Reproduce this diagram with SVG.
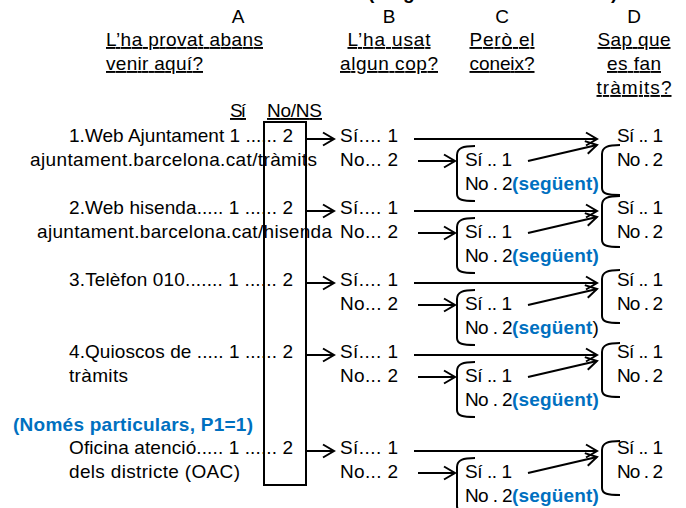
<svg xmlns="http://www.w3.org/2000/svg" width="686" height="508" viewBox="0 0 686 508">
<style>
text{font-family:"Liberation Sans",Arial,sans-serif;font-size:19px;fill:#000}
.u{text-decoration:underline}
.m{text-anchor:middle}
.b{font-weight:bold}
.blue{fill:#0070C0;font-weight:bold}
.ln{fill:none;stroke:#000;stroke-width:2}
.arr{fill:none;stroke:#000;stroke-width:2;marker-end:url(#ah)}
</style>
<defs>
<marker id="ah" markerUnits="userSpaceOnUse" markerWidth="16" markerHeight="16" refX="11" refY="7" orient="auto" overflow="visible">
<path d="M0,0.5 L11,7 L0,13.5" fill="none" stroke="#000" stroke-width="2"/>
</marker>
</defs>
<rect width="686" height="508" fill="#fff"/>
<g id="title">
<text class="b" y="-1"><tspan x="368">(</tspan><tspan x="403">g</tspan><tspan x="611">)</tspan></text>
</g>
<g id="header">
<text class="m" x="238" y="23">A</text>
<text class="m" x="389" y="23">B</text>
<text class="m" x="502" y="23">C</text>
<text class="m" x="634" y="23">D</text>
<text class="u" x="106" y="46" textLength="157" lengthAdjust="spacing">L’ha provat abans</text>
<text class="u" x="106" y="70" textLength="97" lengthAdjust="spacing">venir aquí?</text>
<text class="u m" x="389" y="46" textLength="83" lengthAdjust="spacing">L’ha usat</text>
<text class="u m" x="389" y="70" textLength="98" lengthAdjust="spacing">algun cop?</text>
<text class="u m" x="502" y="46" textLength="65" lengthAdjust="spacing">Però el</text>
<text class="u m" x="502" y="70" textLength="65" lengthAdjust="spacing">coneix?</text>
<text class="u m" x="634" y="46" textLength="73" lengthAdjust="spacing">Sap que</text>
<text class="u m" x="634" y="70" textLength="54" lengthAdjust="spacing">es fan</text>
<text class="u m" x="634" y="94" textLength="75" lengthAdjust="spacing">tràmits?</text>
<text class="u" x="230" y="117" textLength="16" lengthAdjust="spacing">Sí</text>
<text class="u" x="267" y="117" textLength="55" lengthAdjust="spacing">No/NS</text>
</g>
<g id="box">
<rect class="ln" x="264" y="122" width="42" height="363"/>
</g>
<g id="row1">
<text x="69" y="142" textLength="224" lengthAdjust="spacing">1.Web Ajuntament 1 ...... 2</text>
<text x="30" y="166" textLength="287" lengthAdjust="spacing">ajuntament.barcelona.cat/tràmits</text>
<text x="340" y="142" textLength="58" lengthAdjust="spacing">Sí.... 1</text>
<text x="340" y="166" textLength="58" lengthAdjust="spacing">No... 2</text>
<text x="465" y="166" textLength="47" lengthAdjust="spacing">Sí .. 1</text>
<text x="465" y="190"><tspan style="letter-spacing:-0.6px">No . 2</tspan><tspan class="blue" style="letter-spacing:0.15px">(següent)</tspan></text>
<text x="617" y="142" textLength="46" lengthAdjust="spacing">Sí .. 1</text>
<text x="617" y="166" textLength="46" lengthAdjust="spacing">No . 2</text>
</g>
<g id="row2">
<text x="69" y="214" textLength="224" lengthAdjust="spacing">2.Web hisenda..... 1 ...... 2</text>
<text x="37" y="238" textLength="295" lengthAdjust="spacing">ajuntament.barcelona.cat/hisenda</text>
<text x="340" y="214" textLength="58" lengthAdjust="spacing">Sí.... 1</text>
<text x="340" y="238" textLength="58" lengthAdjust="spacing">No... 2</text>
<text x="465" y="238" textLength="47" lengthAdjust="spacing">Sí .. 1</text>
<text x="465" y="262"><tspan style="letter-spacing:-0.6px">No . 2</tspan><tspan class="blue" style="letter-spacing:0.15px">(següent)</tspan></text>
<text x="617" y="214" textLength="46" lengthAdjust="spacing">Sí .. 1</text>
<text x="617" y="238" textLength="46" lengthAdjust="spacing">No . 2</text>
</g>
<g id="row3">
<text x="69" y="286" textLength="224" lengthAdjust="spacing">3.Telèfon 010....... 1 ...... 2</text>
<text x="340" y="286" textLength="58" lengthAdjust="spacing">Sí.... 1</text>
<text x="340" y="310" textLength="58" lengthAdjust="spacing">No... 2</text>
<text x="465" y="310" textLength="47" lengthAdjust="spacing">Sí .. 1</text>
<text x="465" y="334"><tspan style="letter-spacing:-0.6px">No . 2</tspan><tspan class="blue" style="letter-spacing:0.15px">(següent</tspan><tspan>)</tspan></text>
<text x="617" y="286" textLength="46" lengthAdjust="spacing">Sí .. 1</text>
<text x="617" y="310" textLength="46" lengthAdjust="spacing">No . 2</text>
</g>
<g id="row4">
<text x="69" y="358" textLength="224" lengthAdjust="spacing">4.Quioscos de ..... 1 ...... 2</text>
<text x="69" y="382" textLength="59" lengthAdjust="spacing">tràmits</text>
<text x="340" y="358" textLength="58" lengthAdjust="spacing">Sí.... 1</text>
<text x="340" y="382" textLength="58" lengthAdjust="spacing">No... 2</text>
<text x="465" y="382" textLength="47" lengthAdjust="spacing">Sí .. 1</text>
<text x="465" y="406"><tspan style="letter-spacing:-0.6px">No . 2</tspan><tspan class="blue" style="letter-spacing:0.15px">(següent)</tspan></text>
<text x="617" y="358" textLength="46" lengthAdjust="spacing">Sí .. 1</text>
<text x="617" y="382" textLength="46" lengthAdjust="spacing">No . 2</text>
</g>
<g id="row5">
<text class="blue" x="13" y="431" textLength="240" lengthAdjust="spacing">(Només particulars, P1=1)</text>
<text x="69" y="454" textLength="224" lengthAdjust="spacing">Oficina atenció..... 1 ...... 2</text>
<text x="69" y="478" textLength="171" lengthAdjust="spacing">dels districte (OAC)</text>
<text x="340" y="454" textLength="58" lengthAdjust="spacing">Sí.... 1</text>
<text x="340" y="478" textLength="58" lengthAdjust="spacing">No... 2</text>
<text x="465" y="478" textLength="47" lengthAdjust="spacing">Sí .. 1</text>
<text x="465" y="502"><tspan style="letter-spacing:-0.6px">No . 2</tspan><tspan class="blue" style="letter-spacing:0.15px">(següent)</tspan></text>
<text x="617" y="454" textLength="46" lengthAdjust="spacing">Sí .. 1</text>
<text x="617" y="478" textLength="46" lengthAdjust="spacing">No . 2</text>
</g>
<g id="brackets">
<path class="ln" d="M475,146 C463,146 457,148 457,155 V194 C457,200 463,201 475,201"/>
<path class="ln" d="M475,218 C463,218 457,220 457,227 V266 C457,272 463,273 475,273"/>
<path class="ln" d="M475,290 C463,290 457,292 457,299 V338 C457,344 463,345 475,345"/>
<path class="ln" d="M475,362 C463,362 457,364 457,371 V410 C457,416 463,417 475,417"/>
<path class="ln" d="M475,458 C463,458 457,460 457,467 V506 C457,512 463,513 475,513"/>
<path class="ln" d="M620,145 C608,145 602,147 602,154 V188 C602,194 608,195 620,195"/>
<path class="ln" d="M620,196 C608,196 602,198 602,205 V240 C602,246 608,247 620,247"/>
<path class="ln" d="M620,270 C608,270 602,272 602,279 V316 C602,322 608,323 620,323"/>
<path class="ln" d="M620,343 C608,343 602,345 602,352 V390 C602,396 608,397 620,397"/>
<path class="ln" d="M620,441 C608,441 602,443 602,450 V488 C602,494 608,495 620,495"/>
</g>
<g id="connectors">
<path class="arr" d="M306,139 H334"/>
<path class="arr" d="M414,139 H597"/>
<path class="arr" d="M418,161 H455"/>
<path class="arr" d="M528,161 L597,145"/>
<path class="arr" d="M306,211 H334"/>
<path class="arr" d="M414,211 H597"/>
<path class="arr" d="M418,233 H455"/>
<path class="arr" d="M528,233 L597,217"/>
<path class="arr" d="M306,283 H334"/>
<path class="arr" d="M414,283 H597"/>
<path class="arr" d="M418,305 H455"/>
<path class="arr" d="M528,305 L597,289"/>
<path class="arr" d="M306,355 H334"/>
<path class="arr" d="M414,355 H597"/>
<path class="arr" d="M418,377 H455"/>
<path class="arr" d="M528,377 L597,361"/>
<path class="arr" d="M306,451 H334"/>
<path class="arr" d="M414,451 H597"/>
<path class="arr" d="M418,473 H455"/>
<path class="arr" d="M528,473 L597,457"/>
</g>
</svg>
